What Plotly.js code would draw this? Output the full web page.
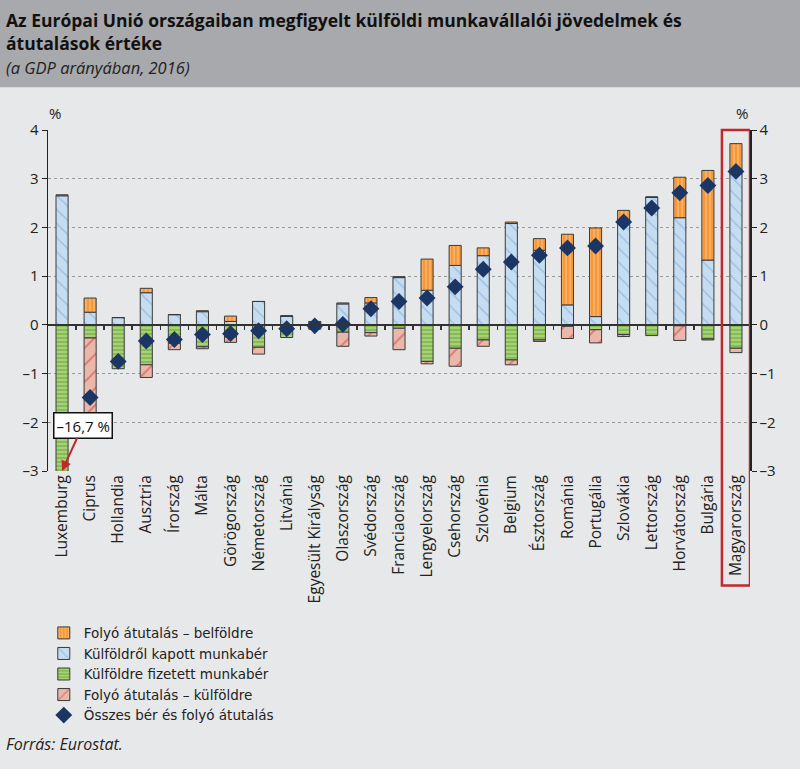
<!DOCTYPE html>
<html><head><meta charset="utf-8">
<script src="https://cdn.plot.ly/plotly-3.0.1.min.js"></script>
<style>html,body{margin:0;padding:0;background:#e7e8e9;}#chart{width:800px;height:769px;}</style>
</head><body><div id="chart"></div>
<script>
const categories = ["Luxemburg","Ciprus","Hollandia","Ausztria","Írország","Málta","Görögország","Németország","Litvánia","Egyesült Királyság","Olaszország","Svédország","Franciaország","Lengyelország","Csehország","Szlovénia","Belgium","Észtország","Románia","Portugália","Szlovákia","Lettország","Horvátország","Bulgária","Magyarország"];
// Külföldről kapott munkabér
const kapott    = [2.65,0.26,0.15,0.66,0.21,0.27,0.07,0.48,0.18,0.06,0.43,0.45,0.97,0.71,1.22,1.42,2.08,1.53,0.41,0.17,2.16,2.62,2.20,1.33,3.10];
// Folyó átutalás – belföldre
const belfoldre = [0.02,0.29,0.00,0.09,0.00,0.02,0.11,0.00,0.00,0.01,0.02,0.11,0.02,0.64,0.41,0.16,0.03,0.24,1.45,1.82,0.19,0.00,0.83,1.84,0.62];
// Külföldre fizetett munkabér
const fizetett  = [-19.20,-0.27,-0.90,-0.82,-0.38,-0.45,-0.25,-0.46,-0.26,-0.05,-0.15,-0.16,-0.07,-0.75,-0.48,-0.31,-0.72,-0.31,-0.03,-0.10,-0.20,-0.22,-0.02,-0.29,-0.48];
// Folyó átutalás – külföldre
const kulfoldre = [-0.17,-1.77,0.00,-0.26,-0.13,-0.04,-0.11,-0.14,0.00,-0.04,-0.29,-0.07,-0.44,-0.05,-0.37,-0.13,-0.10,-0.03,-0.25,-0.27,-0.04,0.00,-0.30,-0.02,-0.09];
// Összes bér és folyó átutalás
const osszes    = [-16.70,-1.49,-0.75,-0.33,-0.30,-0.20,-0.18,-0.12,-0.08,-0.02,0.01,0.33,0.48,0.55,0.78,1.14,1.29,1.43,1.58,1.62,2.11,2.40,2.71,2.86,3.15];
const yTicks = [-3,-2,-1,0,1,2,3,4];
const yTickText = ["–3","–2","–1","0","1","2","3","4"];
const yRange = [-3,4];
const luxLabel = "–16,7 %";
const titleText = "Az Európai Unió országaiban megfigyelt külföldi munkavállalói jövedelmek és<br>átutalások értéke";
const subtitleText = "(a GDP arányában, 2016)";
const sourceText = "Forrás: Eurostat.";

const FONT = "'Open Sans', Lato, sans-serif";
const outline = {color:'#3a3a3a', width:1};
const barW = 0.43;

function barTrace(name, y, bg, fg, shape, size, sol, rank){
  return {type:'bar', name:name, x:categories, y:y, width:barW, legendrank:rank,
    marker:{color:bg, line:outline, pattern:{shape:shape, fgcolor:fg, bgcolor:bg, size:size, solidity:sol, fillmode:'overlay'}},
    hoverinfo:'x+y'};
}
const traces = [
  barTrace('Külföldről kapott munkabér', kapott, '#c6dcf1', '#6ea6d6', '\\', 10, 0.15, 2),
  barTrace('Folyó átutalás – belföldre', belfoldre, '#f6983a', '#fdd4a0', '|', 4, 0.4, 1),
  barTrace('Külföldre fizetett munkabér', fizetett, '#86bd4f', '#d9edc3', '-', 4, 0.4, 3),
  barTrace('Folyó átutalás – külföldre', kulfoldre, '#eab8aa', '#c8333a', '/', 12, 0.15, 4),
  {type:'scatter', mode:'markers', name:'Összes bér és folyó átutalás', x:categories, y:osszes, legendrank:5,
   marker:{symbol:'diamond', size:13, color:'#1b3564'}},
  {type:'scatter', mode:'markers', x:categories, y:osszes, xaxis:'x2', yaxis:'y2', showlegend:false, hoverinfo:'skip',
   marker:{size:0.1, opacity:0}}
];

const boundaries = categories.slice(1).map((_, i) => i + 0.5);
const layout = {
  width:800, height:769,
  paper_bgcolor:'#e7e8e9', plot_bgcolor:'#e7e8e9',
  margin:{l:48, r:50, t:129.5, b:298},
  barmode:'relative', bargap:0.57,
  font:{family:FONT, color:'#222', size:14},
  xaxis:{type:'category', categoryarray:categories, range:[-0.5, categories.length-0.5],
         tickangle:-90, showgrid:false, ticks:'', showline:false, zeroline:false,
         tickfont:{family:FONT, size:15.5, color:'#222'}, fixedrange:true},
  xaxis2:{type:'linear', overlaying:'x', anchor:'free', position:(0-yRange[0])/(yRange[1]-yRange[0]), side:'bottom',
          range:[-0.5, categories.length-0.5], tickvals:boundaries, ticks:'outside', ticklen:4, tickwidth:1.5, tickcolor:'#333',
          showticklabels:false, showgrid:false, zeroline:false, showline:true, linecolor:'#333', linewidth:2},
  yaxis:{range:yRange, tickvals:yTicks, ticktext:yTickText, showline:true, linecolor:'#222', linewidth:1.5,
         ticks:'outside', ticklen:5, tickcolor:'#222', gridcolor:'#9a9a9a', griddash:'dot', gridwidth:1,
         zeroline:false, tickfont:{family:FONT, size:15, color:'#222'}},
  yaxis2:{range:yRange, tickvals:yTicks, ticktext:yTickText, overlaying:'y', side:'right', showline:true, linecolor:'#222', linewidth:1.5,
          ticks:'outside', ticklen:5, tickcolor:'#222', showgrid:false, zeroline:false, tickfont:{family:FONT, size:15, color:'#222'}},
  legend:{x:-0.006, y:-0.43, xanchor:'left', yanchor:'top', bgcolor:'rgba(0,0,0,0)', font:{family:"'DejaVu Sans', 'Open Sans', sans-serif", size:13.5, color:'#222'},
          tracegroupgap:0, itemwidth:30},
  showlegend:true,
  shapes:[
    {type:'rect', xref:'paper', yref:'paper', x0:-0.1, x1:1.1, y0:(471-86)/342, y1:1.45, fillcolor:'#a7a9ac', line:{width:0}, layer:'below'},
    {type:'rect', xref:'x', yref:'paper', x0:categories.length-1.5, x1:categories.length-0.5, y0:-0.336, y1:1.0, line:{color:'#c0282d', width:2.5}, layer:'above'}
  ],
  annotations:[
    {text:'<b>'+titleText+'</b>', xref:'paper', yref:'paper', x:-0.062, y:(471-5)/342, xanchor:'left', yanchor:'top', align:'left', showarrow:false, font:{family:FONT, size:17.5, color:'#111'}},
    {text:'<i>'+subtitleText+'</i>', xref:'paper', yref:'paper', x:-0.062, y:(471-66)/342, xanchor:'left', yanchor:'middle', showarrow:false, font:{family:FONT, size:16.5, color:'#222'}},
    {text:'%', xref:'paper', yref:'paper', x:0.01, y:1.05, xanchor:'center', yanchor:'middle', showarrow:false, font:{family:FONT, size:15, color:'#222'}},
    {text:'%', xref:'paper', yref:'paper', x:0.988, y:1.05, xanchor:'center', yanchor:'middle', showarrow:false, font:{family:FONT, size:15, color:'#222'}},
    {text:luxLabel, x:categories[0], y:yRange[0], xref:'x', yref:'y', showarrow:true, ax:21, ay:-46,
     arrowcolor:'#c0282d', arrowwidth:2, arrowhead:2, arrowsize:1, bgcolor:'#ffffff', bordercolor:'#111', borderwidth:1.5, borderpad:2,
     font:{family:FONT, size:15, color:'#111'}},
    {text:'<i>'+sourceText+'</i>', xref:'paper', yref:'paper', x:-0.062, y:(471-745)/342, xanchor:'left', yanchor:'middle', showarrow:false, font:{family:FONT, size:16, color:'#222'}}
  ]
};
Plotly.newPlot('chart', traces, layout, {displayModeBar:false, staticPlot:true});
</script></body></html>
